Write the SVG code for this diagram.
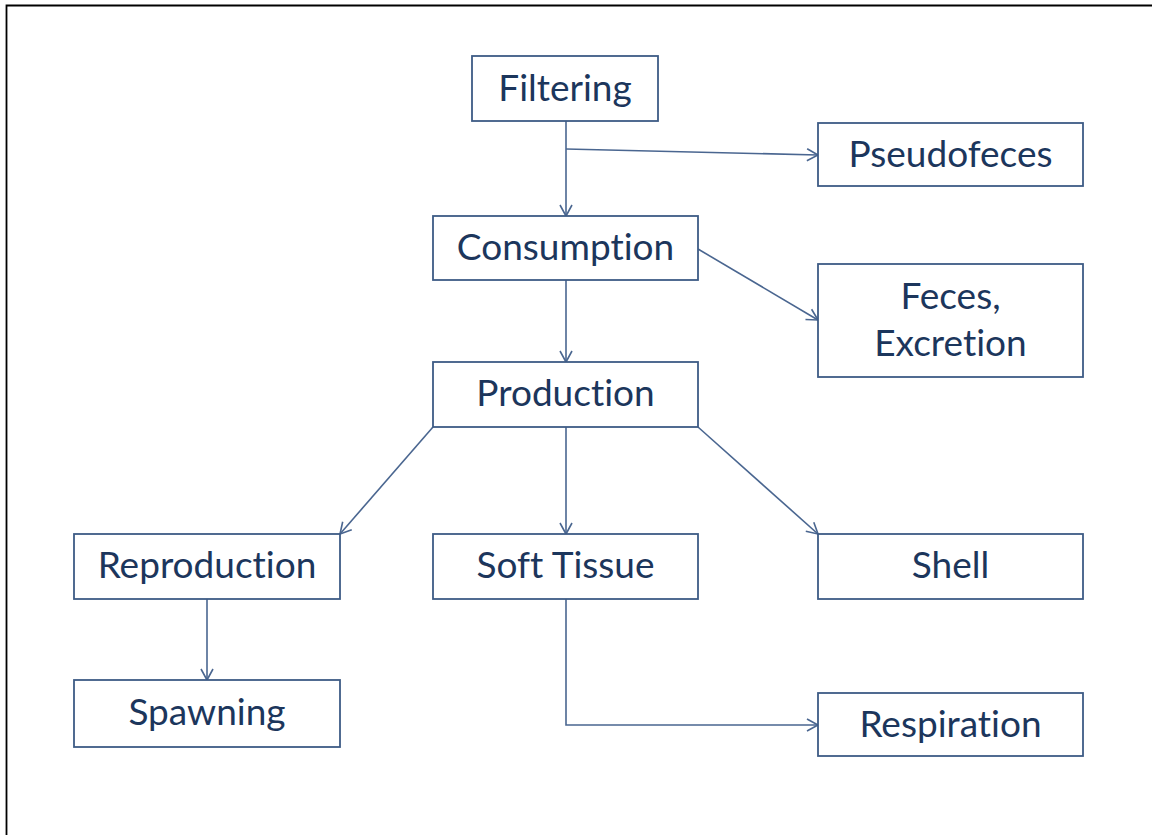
<svg xmlns="http://www.w3.org/2000/svg" width="1152" height="835" viewBox="0 0 1152 835">
<style>
.box{fill:#fff;stroke:#3d5b85;stroke-width:1.8}
.lbl{font-family:Lato,"Open Sans","Liberation Sans",sans-serif;font-size:37px;fill:#1c365c;text-anchor:middle;font-variant-ligatures:none;font-feature-settings:"liga" 0}
.con{fill:none;stroke:#4a6690;stroke-width:1.6}
</style>
<defs>
<marker id="arr" markerUnits="userSpaceOnUse" markerWidth="14" markerHeight="16" refX="12" refY="7" orient="auto" viewBox="0 0 14 14">
<path d="M1,1 L12,7 L1,13" fill="none" stroke="#4a6690" stroke-width="1.6"/>
</marker>
</defs>
<rect x="0" y="0" width="1152" height="835" fill="#fff"/>
<path d="M6.5,840 L6.5,5.5 L1160,5.5" fill="none" stroke="#000" stroke-width="1.8"/>
<g id="connectors">
<line class="con" x1="566" y1="121" x2="566" y2="216" marker-end="url(#arr)"/>
<line class="con" x1="566" y1="149" x2="818" y2="155" marker-end="url(#arr)"/>
<line class="con" x1="698" y1="249" x2="818" y2="320" marker-end="url(#arr)"/>
<line class="con" x1="566" y1="280" x2="566" y2="362" marker-end="url(#arr)"/>
<line class="con" x1="433" y1="427" x2="340" y2="534" marker-end="url(#arr)"/>
<line class="con" x1="566" y1="427" x2="566" y2="534" marker-end="url(#arr)"/>
<line class="con" x1="698" y1="427" x2="818" y2="534" marker-end="url(#arr)"/>
<line class="con" x1="207" y1="599" x2="207" y2="680" marker-end="url(#arr)"/>
<polyline class="con" points="566,599 566,725 818,725" marker-end="url(#arr)"/>
</g>
<g id="filtering"><rect class="box" x="472" y="56" width="186" height="65"/><text class="lbl" x="565" y="101">Filtering</text></g>
<g id="pseudofeces"><rect class="box" x="818" y="123" width="265" height="63"/><text class="lbl" x="950.5" y="167">Pseudofeces</text></g>
<g id="consumption"><rect class="box" x="433" y="216" width="265" height="64"/><text class="lbl" x="565.5" y="260">Consumption</text></g>
<g id="feces"><rect class="box" x="818" y="264" width="265" height="113"/><text class="lbl" x="950.5" y="309">Feces,</text><text class="lbl" x="950.5" y="356">Excretion</text></g>
<g id="production"><rect class="box" x="433" y="362" width="265" height="65"/><text class="lbl" x="565.5" y="406">Production</text></g>
<g id="reproduction"><rect class="box" x="74" y="534" width="266" height="65"/><text class="lbl" x="207" y="578">Reproduction</text></g>
<g id="softtissue"><rect class="box" x="433" y="534" width="265" height="65"/><text class="lbl" x="565.5" y="578">Soft Tissue</text></g>
<g id="shell"><rect class="box" x="818" y="534" width="265" height="65"/><text class="lbl" x="950.5" y="578">Shell</text></g>
<g id="spawning"><rect class="box" x="74" y="680" width="266" height="67"/><text class="lbl" x="207" y="725">Spawning</text></g>
<g id="respiration"><rect class="box" x="818" y="693" width="265" height="63"/><text class="lbl" x="950.5" y="737">Respiration</text></g>
</svg>
